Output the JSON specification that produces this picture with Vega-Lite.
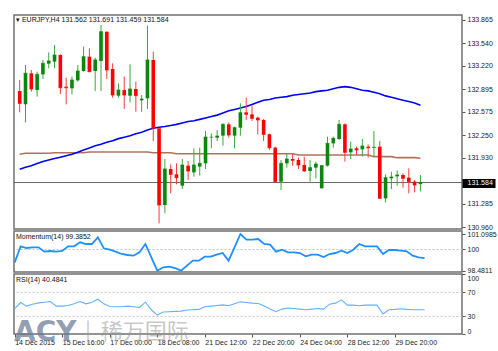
{
"$schema": "https://vega.github.io/schema/vega-lite/v6.json",
"padding": {"left": 10, "top": 14, "right": 0, "bottom": 0},
"background": "white",
"spacing": 2,
"bounds": "flush",
"title": {"text": "ACY", "subtitle": "\u200b\u3000\u3000\u3000\u00a0|\u00a0\u00a0稀万国际", "orient": "bottom", "anchor": "start", "frame": "group", "offset": -27, "baseline": "top",
          "font": "DejaVu Sans", "fontSize": 28, "fontWeight": "bold", "color": "rgba(105,122,148,0.72)",
          "subtitleFont": "Noto Sans CJK SC", "subtitleFontSize": 22, "subtitleFontWeight": "normal", "subtitleColor": "rgba(150,150,150,0.55)", "subtitlePadding": -25},
"config": {
  "view": {"stroke": "#707070", "strokeWidth": 1.5},
  "axis": {"labelFont": "Liberation Sans", "labelFontSize": 7, "labelColor": "#222", "tickColor": "#555", "tickSize": 3, "domain": false, "grid": false, "labelPadding": 2, "labelOverlap": false},
  "title": {"font": "Liberation Sans", "fontSize": 7, "fontWeight": "normal", "color": "#111", "anchor": "start", "frame": "group", "baseline": "alphabetic"}
},
"datasets": {"bars": [
{"i":0,"open":132.868,"high":133.023,"low":132.569,"close":132.695,"momentum":99.078,"rsi":42.1,"ma50":131.77,"ma200":131.980},
{"i":1,"open":132.681,"high":133.233,"low":132.429,"close":133.116,"momentum":100.219,"rsi":52.5,"ma50":131.80,"ma200":131.994},
{"i":2,"open":133.116,"high":133.163,"low":132.859,"close":132.897,"momentum":100.100,"rsi":46.5,"ma50":131.82,"ma200":131.994},
{"i":3,"open":132.882,"high":133.140,"low":132.789,"close":133.102,"momentum":100.148,"rsi":49.7,"ma50":131.85,"ma200":131.994},
{"i":4,"open":133.102,"high":133.304,"low":133.037,"close":133.257,"momentum":100.148,"rsi":51.9,"ma50":131.88,"ma200":131.994},
{"i":5,"open":133.252,"high":133.411,"low":133.187,"close":133.290,"momentum":99.838,"rsi":53.0,"ma50":131.90,"ma200":131.994},
{"i":6,"open":133.280,"high":133.514,"low":133.187,"close":133.374,"momentum":99.886,"rsi":54.1,"ma50":131.92,"ma200":132.003},
{"i":7,"open":133.374,"high":133.383,"low":132.826,"close":132.915,"momentum":99.838,"rsi":46.5,"ma50":131.94,"ma200":132.003},
{"i":8,"open":132.929,"high":133.056,"low":132.681,"close":132.915,"momentum":99.886,"rsi":46.5,"ma50":131.96,"ma200":132.003},
{"i":9,"open":132.906,"high":133.070,"low":132.822,"close":133.023,"momentum":100.219,"rsi":47.5,"ma50":131.98,"ma200":132.003},
{"i":10,"open":133.018,"high":133.233,"low":132.999,"close":133.149,"momentum":100.219,"rsi":50.3,"ma50":132.01,"ma200":132.003},
{"i":11,"open":133.149,"high":133.491,"low":133.140,"close":133.350,"momentum":100.504,"rsi":54.1,"ma50":132.04,"ma200":132.003},
{"i":12,"open":133.350,"high":133.467,"low":133.130,"close":133.140,"momentum":100.385,"rsi":50.3,"ma50":132.07,"ma200":132.013},
{"i":13,"open":133.149,"high":133.336,"low":132.868,"close":133.304,"momentum":100.385,"rsi":53.0,"ma50":132.10,"ma200":132.013},
{"i":14,"open":133.290,"high":133.795,"low":132.868,"close":133.701,"momentum":100.861,"rsi":58.0,"ma50":132.12,"ma200":132.013},
{"i":15,"open":133.701,"high":133.701,"low":133.037,"close":133.163,"momentum":100.076,"rsi":50.3,"ma50":132.15,"ma200":132.013},
{"i":16,"open":133.177,"high":133.257,"low":132.775,"close":132.812,"momentum":99.981,"rsi":45.9,"ma50":132.17,"ma200":132.013},
{"i":17,"open":132.803,"high":132.976,"low":132.775,"close":132.882,"momentum":99.838,"rsi":45.4,"ma50":132.20,"ma200":132.013},
{"i":18,"open":132.882,"high":133.070,"low":132.616,"close":132.812,"momentum":99.672,"rsi":45.4,"ma50":132.22,"ma200":132.013},
{"i":19,"open":132.803,"high":133.243,"low":132.709,"close":132.897,"momentum":99.601,"rsi":46.5,"ma50":132.24,"ma200":132.013},
{"i":20,"open":132.897,"high":132.999,"low":132.578,"close":132.803,"momentum":99.553,"rsi":45.4,"ma50":132.27,"ma200":132.013},
{"i":21,"open":132.738,"high":132.812,"low":132.578,"close":132.756,"momentum":99.791,"rsi":44.3,"ma50":132.29,"ma200":132.013},
{"i":22,"open":132.766,"high":133.785,"low":132.616,"close":133.304,"momentum":100.385,"rsi":53.0,"ma50":132.32,"ma200":132.013},
{"i":23,"open":133.304,"high":133.420,"low":132.167,"close":132.345,"momentum":99.434,"rsi":40.4,"ma50":132.345,"ma200":132.003},
{"i":24,"open":132.345,"high":132.345,"low":131.011,"close":131.269,"momentum":98.483,"rsi":31.6,"ma50":132.36,"ma200":132.003},
{"i":25,"open":131.269,"high":131.914,"low":131.152,"close":131.774,"momentum":98.721,"rsi":36.6,"ma50":132.37,"ma200":132.003},
{"i":26,"open":131.774,"high":131.839,"low":131.432,"close":131.699,"momentum":98.768,"rsi":37.1,"ma50":132.385,"ma200":132.003},
{"i":27,"open":131.699,"high":131.853,"low":131.559,"close":131.652,"momentum":98.673,"rsi":37.7,"ma50":132.40,"ma200":131.989},
{"i":28,"open":131.540,"high":131.914,"low":131.493,"close":131.830,"momentum":98.483,"rsi":38.2,"ma50":132.42,"ma200":131.989},
{"i":29,"open":131.821,"high":131.886,"low":131.620,"close":131.746,"momentum":98.840,"rsi":39.9,"ma50":132.44,"ma200":131.989},
{"i":30,"open":131.727,"high":132.064,"low":131.666,"close":131.830,"momentum":99.197,"rsi":40.4,"ma50":132.45,"ma200":131.989},
{"i":31,"open":131.807,"high":132.073,"low":131.680,"close":131.853,"momentum":99.197,"rsi":41.0,"ma50":132.47,"ma200":131.989},
{"i":32,"open":131.853,"high":132.307,"low":131.774,"close":132.223,"momentum":99.482,"rsi":45.4,"ma50":132.49,"ma200":131.989},
{"i":33,"open":132.220,"high":132.274,"low":132.064,"close":132.220,"momentum":99.482,"rsi":46.5,"ma50":132.51,"ma200":131.989},
{"i":34,"open":132.214,"high":132.321,"low":132.167,"close":132.237,"momentum":99.624,"rsi":47.5,"ma50":132.53,"ma200":131.989},
{"i":35,"open":132.242,"high":132.415,"low":132.101,"close":132.401,"momentum":99.743,"rsi":48.6,"ma50":132.56,"ma200":131.989},
{"i":36,"open":132.401,"high":132.429,"low":132.214,"close":132.251,"momentum":99.197,"rsi":47.0,"ma50":132.59,"ma200":131.989},
{"i":37,"open":132.242,"high":132.368,"low":132.064,"close":132.354,"momentum":100.148,"rsi":50.3,"ma50":132.61,"ma200":131.989},
{"i":38,"open":132.354,"high":132.695,"low":132.242,"close":132.564,"momentum":101.099,"rsi":53.6,"ma50":132.63,"ma200":131.989},
{"i":39,"open":132.569,"high":132.775,"low":132.462,"close":132.541,"momentum":100.694,"rsi":52.5,"ma50":132.65,"ma200":131.989},
{"i":40,"open":132.541,"high":132.663,"low":132.447,"close":132.485,"momentum":100.694,"rsi":51.4,"ma50":132.68,"ma200":131.989},
{"i":41,"open":132.494,"high":132.508,"low":132.260,"close":132.462,"momentum":100.742,"rsi":50.8,"ma50":132.71,"ma200":131.989},
{"i":42,"open":132.462,"high":132.476,"low":132.167,"close":132.260,"momentum":100.385,"rsi":46.5,"ma50":132.74,"ma200":131.989},
{"i":43,"open":132.260,"high":132.270,"low":132.041,"close":132.073,"momentum":100.338,"rsi":41.5,"ma50":132.75,"ma200":131.989},
{"i":44,"open":132.073,"high":132.087,"low":131.596,"close":131.596,"momentum":99.838,"rsi":37.1,"ma50":132.77,"ma200":131.989},
{"i":45,"open":131.596,"high":131.900,"low":131.479,"close":131.853,"momentum":99.981,"rsi":41.5,"ma50":132.78,"ma200":131.989},
{"i":46,"open":131.853,"high":131.994,"low":131.793,"close":131.914,"momentum":99.791,"rsi":43.2,"ma50":132.79,"ma200":131.989},
{"i":47,"open":131.914,"high":131.994,"low":131.821,"close":131.896,"momentum":99.791,"rsi":42.6,"ma50":132.81,"ma200":131.989},
{"i":48,"open":131.900,"high":131.933,"low":131.774,"close":131.830,"momentum":99.743,"rsi":41.5,"ma50":132.82,"ma200":131.971},
{"i":49,"open":131.830,"high":131.947,"low":131.736,"close":131.746,"momentum":99.505,"rsi":40.4,"ma50":132.83,"ma200":131.971},
{"i":50,"open":131.746,"high":131.900,"low":131.596,"close":131.793,"momentum":99.624,"rsi":41.5,"ma50":132.84,"ma200":131.971},
{"i":51,"open":131.793,"high":131.877,"low":131.643,"close":131.844,"momentum":99.624,"rsi":42.6,"ma50":132.86,"ma200":131.971},
{"i":52,"open":131.503,"high":131.830,"low":131.503,"close":131.821,"momentum":99.458,"rsi":41.5,"ma50":132.87,"ma200":131.971},
{"i":53,"open":131.821,"high":132.228,"low":131.807,"close":132.134,"momentum":99.672,"rsi":49.7,"ma50":132.88,"ma200":131.971},
{"i":54,"open":132.134,"high":132.228,"low":132.073,"close":132.205,"momentum":99.743,"rsi":51.4,"ma50":132.90,"ma200":131.971},
{"i":55,"open":132.195,"high":132.462,"low":132.181,"close":132.401,"momentum":99.910,"rsi":56.9,"ma50":132.92,"ma200":131.971},
{"i":56,"open":132.401,"high":132.415,"low":131.877,"close":132.008,"momentum":99.743,"rsi":48.1,"ma50":132.93,"ma200":131.971},
{"i":57,"open":132.008,"high":132.158,"low":131.914,"close":132.055,"momentum":99.981,"rsi":48.1,"ma50":132.92,"ma200":131.971},
{"i":58,"open":132.064,"high":132.087,"low":131.970,"close":132.041,"momentum":100.385,"rsi":47.0,"ma50":132.90,"ma200":131.971},
{"i":59,"open":132.050,"high":132.195,"low":131.947,"close":132.097,"momentum":100.219,"rsi":48.1,"ma50":132.88,"ma200":131.971},
{"i":60,"open":132.087,"high":132.120,"low":131.933,"close":132.073,"momentum":100.219,"rsi":48.1,"ma50":132.87,"ma200":131.971},
{"i":61,"open":132.073,"high":132.307,"low":131.947,"close":132.078,"momentum":100.219,"rsi":48.1,"ma50":132.85,"ma200":131.947},
{"i":62,"open":132.087,"high":132.167,"low":131.362,"close":131.362,"momentum":99.672,"rsi":33.3,"ma50":132.83,"ma200":131.947},
{"i":63,"open":131.362,"high":131.699,"low":131.306,"close":131.652,"momentum":99.957,"rsi":40.4,"ma50":132.80,"ma200":131.947},
{"i":64,"open":131.643,"high":131.736,"low":131.493,"close":131.662,"momentum":99.957,"rsi":41.0,"ma50":132.78,"ma200":131.947},
{"i":65,"open":131.671,"high":131.755,"low":131.540,"close":131.690,"momentum":99.910,"rsi":42.1,"ma50":132.76,"ma200":131.933},
{"i":66,"open":131.690,"high":131.713,"low":131.512,"close":131.643,"momentum":99.862,"rsi":41.0,"ma50":132.74,"ma200":131.933},
{"i":67,"open":131.652,"high":131.783,"low":131.432,"close":131.596,"momentum":99.553,"rsi":40.4,"ma50":132.72,"ma200":131.933},
{"i":68,"open":131.596,"high":131.620,"low":131.446,"close":131.549,"momentum":99.434,"rsi":40.4,"ma50":132.70,"ma200":131.933},
{"i":69,"open":131.562,"high":131.691,"low":131.459,"close":131.584,"momentum":99.3852,"rsi":40.4841,"ma50":132.67,"ma200":131.924}
]},
"vconcat": [
{
  "width": 448, "height": 214,
  "data": {"name": "bars"},
  "title": {"text": "▾ EURJPY,H4  131.562 131.691 131.459 131.584", "orient": "top", "offset": -8, "dx": 2},
  "layer": [
    {"mark": {"type": "line", "color": "#b0735a", "strokeWidth": 1.6},
     "encoding": {"x": {"field": "i", "type": "quantitative", "title": null, "scale": {"domain": [-0.12, 75.3], "nice": false, "zero": false}, "axis": null},
                  "y": {"field": "ma200", "type": "quantitative", "title": null,
                        "scale": {"domain": [130.932, 133.935], "nice": false, "zero": false},
                        "axis": {"orient": "right", "labelOverlap": false, "format": ".3f", "tickCount": 40,
                                 "values": [133.865, 133.540, 133.220, 132.895, 132.575, 132.250, 131.930, 131.584, 131.285, 130.960],
                                 "tickSize": {"condition": {"test": "datum.value == 131.584", "value": 33}, "value": 3},
                                 "tickWidth": {"condition": {"test": "datum.value == 131.584", "value": 9}, "value": 1},
                                 "tickColor": {"condition": {"test": "datum.value == 131.584", "value": "#000"}, "value": "#555"},
                                 "labelColor": {"condition": {"test": "datum.value == 131.584", "value": "#fff"}, "value": "#222"},
                                 "labelPadding": {"condition": {"test": "datum.value == 131.584", "value": -28}, "value": 2}}}}},
    {"transform": [{"filter": "datum.i == 69"}],
     "mark": {"type": "rule", "color": "#666", "strokeWidth": 1},
     "encoding": {"y": {"field": "close", "type": "quantitative"}}},
    {"mark": {"type": "line", "color": "#0000ff", "strokeWidth": 1.6},
     "encoding": {"x": {"field": "i", "type": "quantitative"},
                  "y": {"field": "ma50", "type": "quantitative"}}},
    {"mark": {"type": "rule", "strokeWidth": 1},
     "encoding": {"x": {"field": "i", "type": "quantitative"},
                  "y": {"field": "low", "type": "quantitative"},
                  "y2": {"field": "high"},
                  "color": {"condition": {"test": "datum.close >= datum.open", "value": "#3da53d"}, "value": "#ff3b3b"}}},
    {"mark": {"type": "bar", "size": 3.6},
     "encoding": {"x": {"field": "i", "type": "quantitative"},
                  "y": {"field": "open", "type": "quantitative"},
                  "y2": {"field": "close"},
                  "color": {"condition": {"test": "datum.close >= datum.open", "value": "#0b870b"}, "value": "#ff0000"}}},
    {"mark": {"type": "tick", "orient": "horizontal", "size": 3.6, "thickness": 1},
     "encoding": {"x": {"field": "i", "type": "quantitative"},
                  "y": {"field": "close", "type": "quantitative"},
                  "color": {"condition": {"test": "datum.close >= datum.open", "value": "#0b870b"}, "value": "#ff0000"}}}
  ]
},
{
  "width": 448, "height": 41,
  "data": {"name": "bars"},
  "title": {"text": "Momentum(14) 99.3852", "orient": "top", "offset": -10, "dx": 2},
  "mark": {"type": "line", "color": "#1e90ff", "strokeWidth": 1.8},
  "encoding": {"x": {"field": "i", "type": "quantitative", "scale": {"domain": [-0.12, 75.3], "nice": false, "zero": false}, "axis": null},
               "y": {"field": "momentum", "type": "quantitative", "title": null,
                     "scale": {"domain": [98.388, 101.3125], "nice": false, "zero": false},
                     "axis": {"orient": "right", "labelOverlap": false, "tickCount": 40, "values": [98.4811, 100, 101.0985], "labelExpr": "datum.value == 100 ? '100' : format(datum.value, '.4f')",
                              "grid": true, "gridColor": "#c4c4c4", "gridDash": [2, 2], "gridOpacity": {"condition": {"test": "datum.value == 100", "value": 1}, "value": 0}}}}
},
{
  "width": 448, "height": 60,
  "data": {"name": "bars"},
  "title": {"text": "RSI(14) 40.4841", "orient": "top", "offset": -9, "dx": 2},
  "mark": {"type": "line", "color": "#63b1ff", "strokeWidth": 1.1},
  "encoding": {"x": {"field": "i", "type": "quantitative", "title": null,
        "scale": {"domain": [-0.12, 75.3], "nice": false, "zero": false},
        "axis": {"values": [0, 8, 16, 24, 32, 40, 48, 56, 64], "tickCount": 40, "labelAlign": "left", "labelPadding": 1, "tickSize": 3, "labelOverlap": false,
                 "labelExpr": "['14 Dec 2015','15 Dec 16:00','17 Dec 00:00','18 Dec 08:00','21 Dec 12:00','22 Dec 20:00','24 Dec 04:00','28 Dec 12:00','29 Dec 20:00'][round(datum.value/8)]"}},
               "y": {"field": "rsi", "type": "quantitative", "title": null,
                     "scale": {"domain": [0, 100], "nice": false, "zero": false},
                     "axis": {"orient": "right", "labelOverlap": false, "tickCount": 40, "values": [0, 30, 70, 100], "labelFlush": true,
                              "grid": true, "gridColor": "#c4c4c4", "gridDash": [2, 2], "gridOpacity": {"condition": {"test": "datum.value == 30 || datum.value == 70", "value": 1}, "value": 0}}}}
}
]
}
